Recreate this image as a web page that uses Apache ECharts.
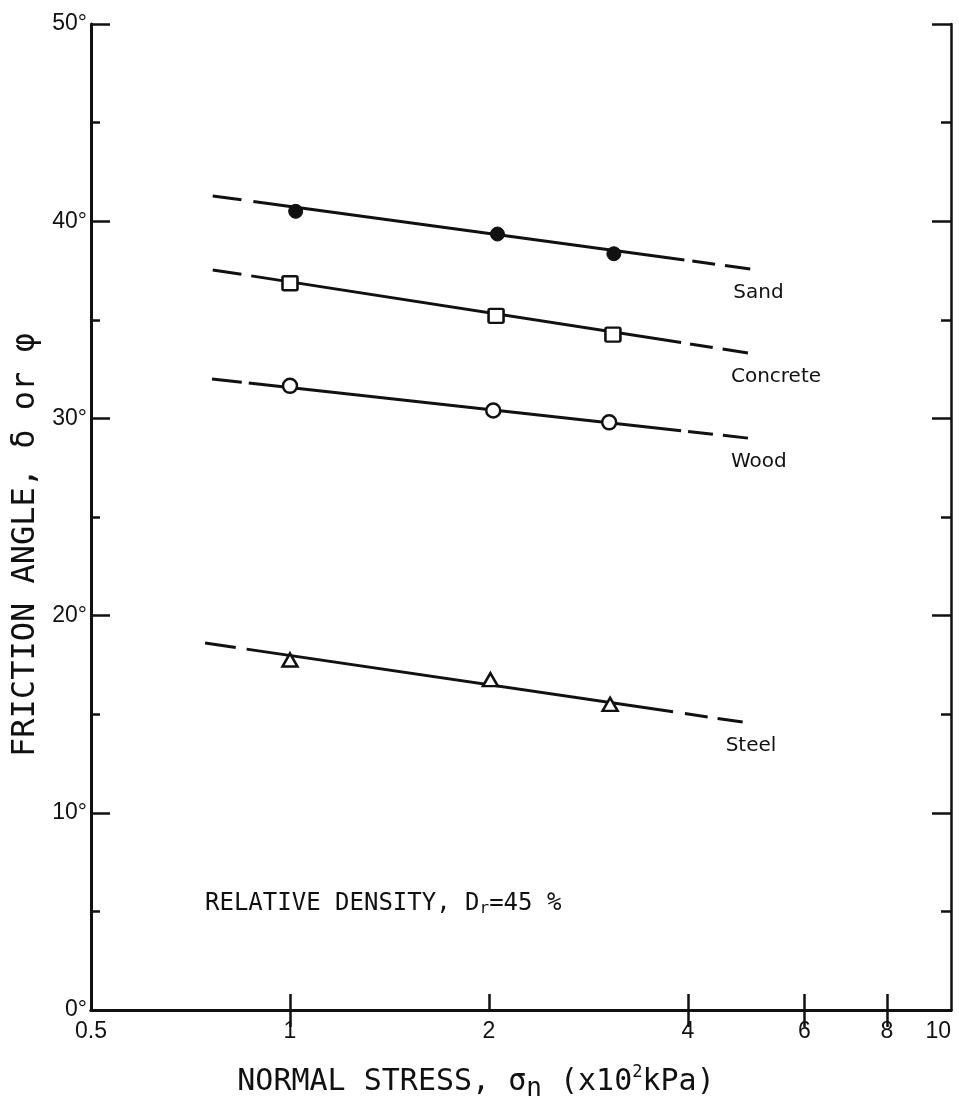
<!DOCTYPE html>
<html>
<head>
<meta charset="utf-8">
<script src="https://cdn.jsdelivr.net/npm/echarts@6/dist/echarts.min.js"></script>
<style>
html,body{margin:0;padding:0;background:#fff;}
#chart{width:959px;height:1106px;}
</style>
</head>
<body>
<div id="chart"></div>
<script>
// ---- data ----
const xLabelValues = [0.5, 1, 2, 4, 6, 8, 10];
const xBottomTickValues = [1, 2, 4, 6, 8];
const xTopTickValues = [1, 4, 6, 8];

const materials = ['Sand', 'Concrete', 'Wood', 'Steel'];

const sandX = [1.02, 2.06, 3.09];
const sandY = [40.5, 39.35, 38.35];
const concreteX = [1.0, 2.05, 3.08];
const concreteY = [36.85, 35.2, 34.25];
const woodX = [1.0, 2.03, 3.04];
const woodY = [31.65, 30.4, 29.8];
const steelX = [1.0, 2.01, 3.05];
const steelY = [17.75, 16.75, 15.5];

// fitted lines: [left end], [right end]
const sandFit = [[0.764, 41.28], [4.97, 37.58]];
const concreteFit = [[0.764, 37.53], [4.93, 33.32]];
const woodFit = [[0.762, 32.0], [4.93, 29.0]];
const steelFit = [[0.744, 18.61], [4.84, 14.6]];

// ---- styling ----
const INK = '#111';
const monoFont = "'DejaVu Sans Mono', 'Liberation Mono', monospace";
const numFont = "'Liberation Sans', 'DejaVu Sans', sans-serif";

const pts = (xs, ys) => xs.map((x, i) => [x, ys[i]]);

const markerStyles = {
  Sand: {symbol: 'circle', symbolSize: 14, itemStyle: {color: INK, borderColor: INK, borderWidth: 1, opacity: 1}},
  Concrete: {symbol: 'path://M2,0 L18,0 Q20,0 20,2 L20,16 Q20,18 18,18 L2,18 Q0,18 0,16 L0,2 Q0,0 2,0 Z', symbolSize: [15, 14], itemStyle: {color: '#fff', borderColor: INK, borderWidth: 2.5, opacity: 1}},
  Wood: {symbol: 'circle', symbolSize: 14, itemStyle: {color: '#fff', borderColor: INK, borderWidth: 2.5, opacity: 1}},
  Steel: {symbol: 'triangle', symbolSize: [15, 13], itemStyle: {color: '#fff', borderColor: INK, borderWidth: 2.5, opacity: 1}}
};

const dashPatterns = {
  Sand: [29, 12, 435, 8, 23, 10, 40, 400],
  Concrete: [29, 10, 435, 9, 23, 10, 40, 400],
  Wood: [30, 7, 435, 7, 25, 10, 40, 400],
  Steel: [31, 11, 431, 12, 23, 10, 40, 400]
};

const fits = {Sand: sandFit, Concrete: concreteFit, Wood: woodFit, Steel: steelFit};
const points = {
  Sand: pts(sandX, sandY),
  Concrete: pts(concreteX, concreteY),
  Wood: pts(woodX, woodY),
  Steel: pts(steelX, steelY)
};

const series = [];
materials.forEach(m => {
  series.push({
    name: m + ' fit',
    type: 'line',
    data: fits[m],
    symbol: 'none',
    silent: true,
    z: 2,
    lineStyle: {color: INK, width: 3, type: dashPatterns[m], cap: 'butt', opacity: 1}
  });
});
materials.forEach(m => {
  series.push(Object.assign({
    name: m,
    type: 'scatter',
    data: points[m],
    z: 5,
    silent: true
  }, markerStyles[m]));
});
series.push({
  name: 'labels',
  type: 'scatter',
  silent: true,
  symbolSize: 1,
  itemStyle: {color: 'rgba(0,0,0,0)', opacity: 1},
  z: 6,
  data: materials.map(m => ({value: fits[m][1], name: m})),
  label: {
    show: true,
    formatter: p => p.name,
    position: 'inside',
    align: 'left',
    verticalAlign: 'middle',
    offset: [-17, 24],
    color: INK,
    opacity: 1,
    fontFamily: "'DejaVu Sans', sans-serif",
    fontSize: 20
  }
});

const chart = echarts.init(document.getElementById('chart'), null, {renderer: 'canvas'});
chart.setOption({
  backgroundColor: '#fff',
  animation: false,
  grid: {left: 91, right: 8, top: 24, bottom: 96, containLabel: false, outerBoundsMode: 'none'},
  xAxis: [{
    type: 'log',
    logBase: 10,
    min: 0.5,
    max: 10,
    position: 'bottom',
    axisLine: {show: true, lineStyle: {color: INK, width: 3}},
    axisTick: {show: true, inside: true, length: 16, customValues: xBottomTickValues, lineStyle: {color: INK, width: 2.5}},
    minorTick: {show: false},
    splitLine: {show: false},
    axisLabel: {
      show: true,
      customValues: xLabelValues,
      formatter: v => String(v),
      margin: 10,
      color: INK,
      fontFamily: numFont,
      fontSize: 23,
      alignMaxLabel: 'right'
    },
    name: 'NORMAL STRESS, σ{sub|n} (x10{sup|2}kPa)',
    nameLocation: 'middle',
    nameGap: 52,
    nameTextStyle: {
      color: INK,
      fontFamily: monoFont,
      fontSize: 30,
      padding: [0, 90, 0, 0],
      rich: {
        sub: {fontFamily: monoFont, fontSize: 26, color: INK, padding: [14, 0, 0, 0]},
        sup: {fontFamily: monoFont, fontSize: 17, color: INK, padding: [0, 0, 18, 0]}
      }
    }
  }, {
    type: 'log',
    logBase: 10,
    min: 0.5,
    max: 10,
    position: 'top',
    axisLine: {show: true, lineStyle: {color: INK, width: 3}},
    axisTick: {show: true, inside: true, length: 17, customValues: xTopTickValues, lineStyle: {color: INK, width: 2.5}},
    axisLabel: {show: false},
    splitLine: {show: false}
  }],
  yAxis: [{
    type: 'value',
    min: 0,
    max: 50,
    interval: 10,
    position: 'left',
    axisLine: {show: true, lineStyle: {color: INK, width: 3}},
    axisTick: {show: true, inside: true, length: 19, lineStyle: {color: INK, width: 2.5}},
    minorTick: {show: true, splitNumber: 2, length: 9, lineStyle: {color: INK, width: 2.5}},
    splitLine: {show: false},
    axisLabel: {
      formatter: '{value}°',
      margin: 4,
      color: INK,
      fontFamily: numFont,
      fontSize: 23
    },
    name: 'FRICTION ANGLE, δ or φ',
    nameLocation: 'middle',
    nameGap: 48,
    nameRotate: 90,
    nameTextStyle: {
      color: INK,
      fontFamily: monoFont,
      fontSize: 32,
      padding: [0, 56, 0, 0]
    }
  }, {
    type: 'value',
    min: 0,
    max: 50,
    interval: 10,
    position: 'right',
    axisLine: {show: true, lineStyle: {color: INK, width: 2.5}},
    axisTick: {show: true, inside: true, length: 19, lineStyle: {color: INK, width: 2.5}},
    minorTick: {show: true, splitNumber: 2, length: 10, lineStyle: {color: INK, width: 2.5}},
    splitLine: {show: false},
    axisLabel: {show: false}
  }],
  graphic: [{
    type: 'text',
    left: 205,
    top: 892,
    style: {
      text: 'RELATIVE DENSITY, D{sub|r}=45 %',
      fill: INK,
      font: "24px 'DejaVu Sans Mono', monospace",
      rich: {
        sub: {fontFamily: monoFont, fontSize: 16, fill: INK, padding: [10, 0, 0, 0]}
      }
    }
  }],
  series: series
});
</script>
</body>
</html>
